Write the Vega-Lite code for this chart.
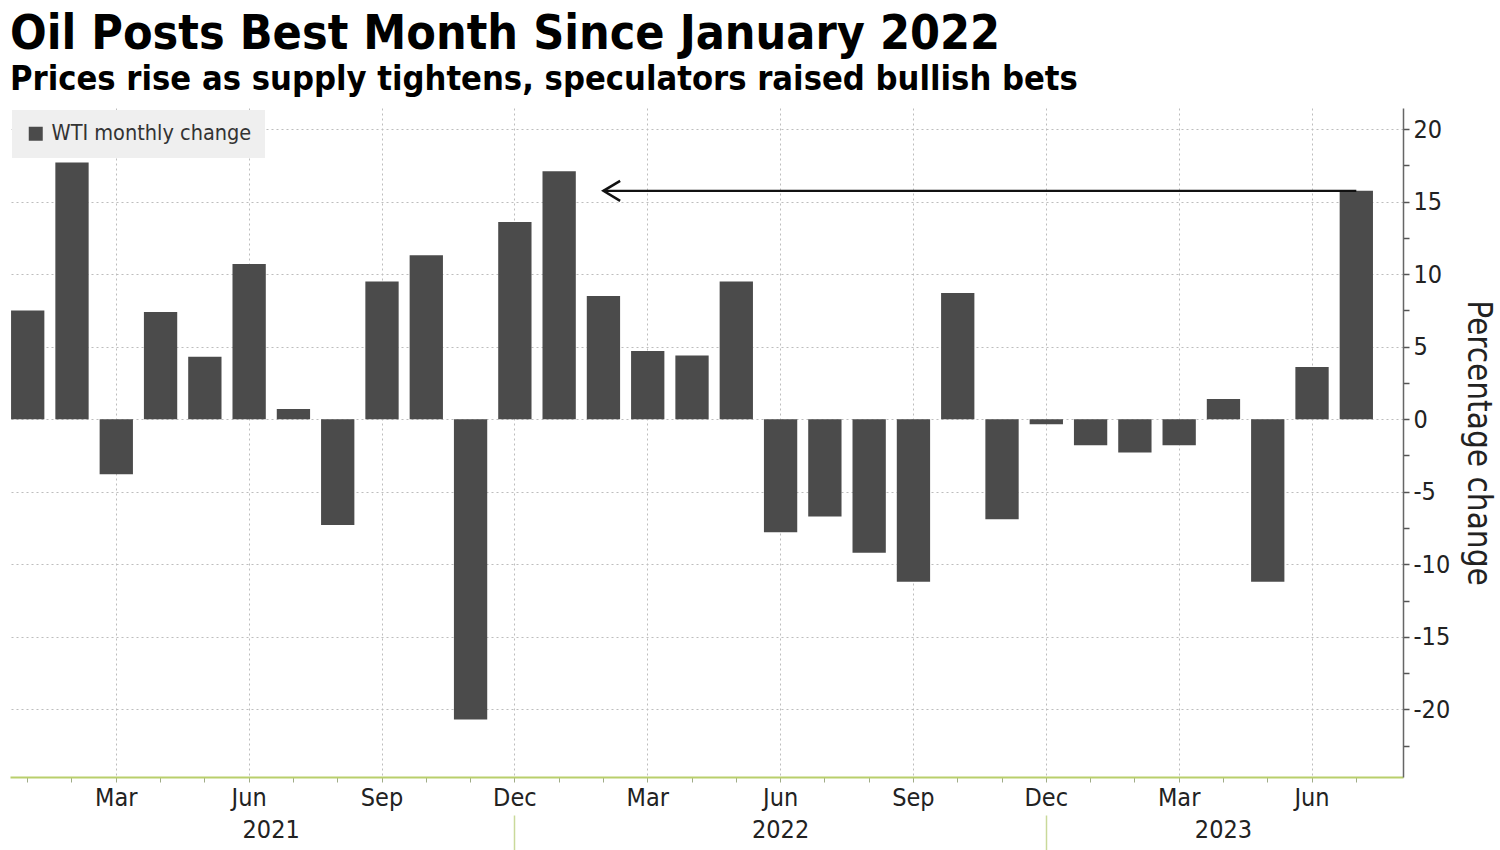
{
  "$schema": "https://vega.github.io/schema/vega-lite/v6.json",
  "width": 1393,
  "height": 669,
  "autosize": "none",
  "padding": {"left": 10, "top": 108, "right": 97, "bottom": 73},
  "background": "#ffffff",
  "title": {
    "text": "Oil Posts Best Month Since January 2022",
    "subtitle": "Prices rise as supply tightens, speculators raised bullish bets",
    "anchor": "start",
    "frame": "group",
    "font": "DejaVu Sans Condensed",
    "fontSize": 48,
    "fontWeight": "bold",
    "color": "#000000",
    "subtitleFont": "DejaVu Sans Condensed",
    "subtitleFontSize": 34.2,
    "subtitleFontWeight": "bold",
    "subtitleColor": "#000000",
    "subtitlePadding": 4,
    "offset": 11
  },
  "config": {
    "view": {"stroke": null},
    "axis": {"labelFont": "DejaVu Sans Condensed", "titleFont": "DejaVu Sans Condensed"}
  },
  "resolve": {"axis": {"x": "independent", "y": "shared"}},
  "encoding": {
    "y": {
      "field": "change",
      "type": "quantitative",
      "scale": {"domain": [-24.67, 21.46], "nice": false, "zero": false},
      "axis": {
        "orient": "right",
        "title": "Percentage change",
        "titleAngle": 90,
        "titleFontSize": 33,
        "titleFontWeight": "normal",
        "titleColor": "#222222",
        "titlePadding": 11,
        "values": [-22.5, -20, -17.5, -15, -12.5, -10, -7.5, -5, -2.5, 0, 2.5, 5, 7.5, 10, 12.5, 15, 17.5, 20],
        "labelExpr": "datum.value % 5 == 0 ? toString(datum.value) : ''",
        "labelFontSize": 25,
        "labelColor": "#222222",
        "labelPadding": 4,
        "labelOverlap": false,
        "domainColor": "#666666",
        "domainWidth": 1.5,
        "tickColor": "#555555",
        "tickWidth": 1.5,
        "tickSize": 6,
        "grid": true,
        "gridColor": "#bdbdbd",
        "gridDash": [2, 3],
        "gridWidth": 1,
        "gridOpacity": {"condition": {"test": "datum.value % 5 == 0", "value": 1}, "value": 0}
      }
    }
  },
  "layer": [
    {
      "data": {
        "values": [
          {"month": "2021-01", "change": 7.5},
          {"month": "2021-02", "change": 17.7},
          {"month": "2021-03", "change": -3.8},
          {"month": "2021-04", "change": 7.4},
          {"month": "2021-05", "change": 4.3},
          {"month": "2021-06", "change": 10.7},
          {"month": "2021-07", "change": 0.7},
          {"month": "2021-08", "change": -7.3},
          {"month": "2021-09", "change": 9.5},
          {"month": "2021-10", "change": 11.3},
          {"month": "2021-11", "change": -20.7},
          {"month": "2021-12", "change": 13.6},
          {"month": "2022-01", "change": 17.1},
          {"month": "2022-02", "change": 8.5},
          {"month": "2022-03", "change": 4.7},
          {"month": "2022-04", "change": 4.4},
          {"month": "2022-05", "change": 9.5},
          {"month": "2022-06", "change": -7.8},
          {"month": "2022-07", "change": -6.7},
          {"month": "2022-08", "change": -9.2},
          {"month": "2022-09", "change": -11.2},
          {"month": "2022-10", "change": 8.7},
          {"month": "2022-11", "change": -6.9},
          {"month": "2022-12", "change": -0.35},
          {"month": "2023-01", "change": -1.8},
          {"month": "2023-02", "change": -2.3},
          {"month": "2023-03", "change": -1.8},
          {"month": "2023-04", "change": 1.4},
          {"month": "2023-05", "change": -11.2},
          {"month": "2023-06", "change": 3.6},
          {"month": "2023-07", "change": 15.75}
        ]
      },
      "mark": {"type": "bar"},
      "encoding": {
        "x": {
          "field": "month",
          "type": "ordinal",
          "sort": null,
          "scale": {
            "type": "band",
            "domain": ["2021-01","2021-02","2021-03","2021-04","2021-05","2021-06","2021-07","2021-08","2021-09","2021-10","2021-11","2021-12","2022-01","2022-02","2022-03","2022-04","2022-05","2022-06","2022-07","2022-08","2022-09","2022-10","2022-11","2022-12","2023-01","2023-02","2023-03","2023-04","2023-05","2023-06","2023-07"],
            "paddingInner": 0.248,
            "paddingOuter": 0.351,
            "align": 0.034
          },
          "axis": {
            "title": null,
            "orient": "bottom",
            "bandPosition": 0.5,
            "labelExpr": "indexof(['03','06','09','12'], slice(datum.value, 5)) >= 0 ? utcFormat(toDate(datum.value + '-15'), '%b') : ''",
            "labelAngle": 0,
            "labelFontSize": 25,
            "labelColor": "#222222",
            "labelPadding": 3,
            "labelFlush": false,
            "labelOverlap": false,
            "domainColor": "#b9cf6c",
            "domainWidth": 2,
            "tickColor": "#a0ac88",
            "tickSize": 5,
            "tickWidth": 1,
            "grid": true,
            "gridColor": "#bdbdbd",
            "gridDash": [2, 3],
            "gridWidth": 1,
            "gridOpacity": {"condition": {"test": "indexof(['03','06','09','12'], slice(datum.value, 5)) >= 0", "value": 1}, "value": 0}
          }
        },
        "color": {
          "datum": "WTI monthly change",
          "type": "nominal",
          "scale": {"range": ["#4b4b4b"]},
          "legend": {
            "title": null,
            "orient": "top-left",
            "offset": 2,
            "fillColor": "#efefef",
            "padding": 13,
            "symbolType": "square",
            "symbolSize": 196,
            "symbolStrokeWidth": 0,
            "labelFont": "DejaVu Sans Condensed",
            "labelFontSize": 21.5,
            "labelColor": "#333333",
            "labelOffset": 5,
            "labelLimit": 500
          }
        }
      }
    },
    {
      "data": {"values": [{"month": "2022-02", "end": "2023-07", "change": 15.75}]},
      "mark": {"type": "rule", "color": "#111111", "strokeWidth": 2.2},
      "encoding": {
        "x": {
          "field": "month",
          "type": "ordinal",
          "bandPosition": 0.5,
          "axis": {
            "title": null,
            "orient": "bottom",
            "bandPosition": 0.5,
            "values": ["2021-06", "2022-06", "2023-04"],
            "labelExpr": "slice(datum.value, 0, 4)",
            "labelAngle": 0,
            "labelOffset": {"condition": {"test": "datum.value == '2021-06'", "value": 22}, "value": 0},
            "labelFontSize": 25,
            "labelColor": "#222222",
            "labelPadding": 40,
            "labelFlush": false,
            "labelOverlap": false,
            "domain": false,
            "ticks": false,
            "grid": false
          }
        },
        "x2": {"field": "end", "bandPosition": 0.5}
      }
    },
    {
      "data": {"values": [{"month": "2022-02", "change": 15.75}]},
      "mark": {"type": "point", "shape": "M1.67,-1L0,0L1.67,1", "size": 400, "filled": false, "stroke": "#111111", "strokeWidth": 2.5, "opacity": 1},
      "encoding": {
        "x": {
          "field": "month",
          "type": "ordinal",
          "axis": {
            "title": null,
            "orient": "bottom",
            "offset": 38,
            "bandPosition": 0.5,
            "values": ["2021-12", "2022-12"],
            "labels": false,
            "domain": false,
            "ticks": true,
            "tickSize": 40,
            "tickColor": "#c9d99a",
            "tickWidth": 1.5,
            "grid": false
          }
        }
      }
    }
  ]
}
